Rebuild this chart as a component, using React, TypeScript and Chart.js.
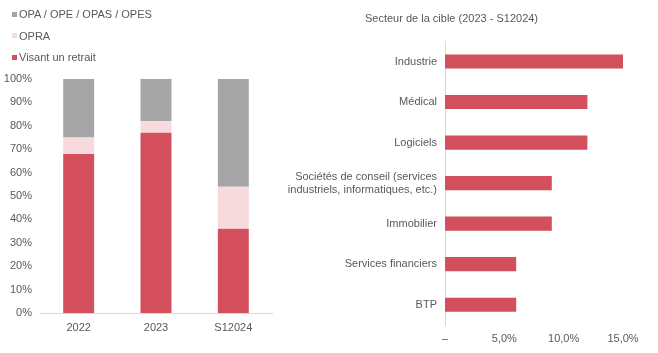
import React, { useEffect, useRef } from "react";
import { Chart, registerables } from "chart.js";

Chart.register(...registerables);

const years = ["2022", "2023", "S12024"];
const visantRetrait = [68, 77, 36];
const opra = [7, 5, 18];
const opaOpe = [25, 18, 46];

const sectors = [
  "Industrie",
  "Médical",
  "Logiciels",
  ["Sociétés de conseil (services", "industriels, informatiques, etc.)"],
  "Immobilier",
  "Services financiers",
  "BTP",
];
const sectorValues = [15, 12, 12, 9, 9, 6, 6];
const sectorTickLabels = ["–", "5,0%", "10,0%", "15,0%"];

const RED = "#D24F5B";
const PINK = "#F6DADD";
const GRAY = "#A5A5A5";
const TEXT = "#595959";
const AXIS = "#D9D9D9";
const FONT = "'Liberation Sans', Arial, sans-serif";

const legendItems = [
  { label: "OPA / OPE / OPAS / OPES", color: GRAY },
  { label: "OPRA", color: PINK },
  { label: "Visant un retrait", color: RED },
];

export default function App() {
  const leftRef = useRef<HTMLCanvasElement>(null);
  const rightRef = useRef<HTMLCanvasElement>(null);

  useEffect(() => {
    Chart.defaults.font.family = FONT;
    Chart.defaults.font.size = 11;
    Chart.defaults.color = TEXT;

    const left = new Chart(leftRef.current!, {
      type: "bar",
      data: {
        labels: years,
        datasets: [
          { label: "Visant un retrait", data: visantRetrait, backgroundColor: RED },
          { label: "OPRA", data: opra, backgroundColor: PINK },
          { label: "OPA / OPE / OPAS / OPES", data: opaOpe, backgroundColor: GRAY },
        ],
      },
      options: {
        responsive: false,
        animation: false,
        devicePixelRatio: 1,
        layout: { padding: { top: 79, right: 8, left: 0, bottom: 0 } },
        datasets: { bar: { categoryPercentage: 1, barPercentage: 0.4 } },
        plugins: { legend: { display: false }, tooltip: { enabled: false } },
        scales: {
          x: {
            stacked: true,
            grid: { display: false, drawTicks: false },
            border: { display: true, color: AXIS, width: 1 },
            ticks: { padding: 8, color: TEXT },
            afterFit: (s: any) => { s.height = 40; },
          },
          y: {
            stacked: true,
            min: 0,
            max: 100,
            grid: { display: false, drawTicks: false },
            border: { display: false },
            ticks: { stepSize: 10, padding: 8, color: TEXT, callback: (v: any) => v + "%" },
            afterFit: (s: any) => { s.width = 40; },
          },
        },
      },
    });

    const right = new Chart(rightRef.current!, {
      type: "bar",
      data: {
        labels: sectors as any,
        datasets: [{ label: "Secteur", data: sectorValues, backgroundColor: RED }],
      },
      options: {
        indexAxis: "y",
        responsive: false,
        animation: false,
        devicePixelRatio: 1,
        layout: { padding: { top: 0, right: 35, left: 0, bottom: 0 } },
        datasets: { bar: { categoryPercentage: 1, barPercentage: 0.35 } },
        plugins: {
          legend: { display: false },
          tooltip: { enabled: false },
          title: {
            display: true,
            text: "Secteur de la cible (2023 - S12024)",
            color: TEXT,
            font: { size: 11, weight: "normal" as any, family: FONT },
            padding: { top: 12, bottom: 16 },
          },
        },
        scales: {
          x: {
            min: 0,
            max: 15,
            grid: { display: false, drawTicks: false },
            border: { display: false },
            ticks: {
              stepSize: 5,
              padding: 7,
              color: TEXT,
              callback: (_v: any, i: number) => sectorTickLabels[i],
            },
            afterFit: (s: any) => { s.height = 28; },
          },
          y: {
            grid: { display: false, drawTicks: false },
            border: { display: true, color: AXIS, width: 1 },
            ticks: { padding: 8, color: TEXT },
            afterFit: (s: any) => { s.width = 165; },
          },
        },
      },
    });

    return () => {
      left.destroy();
      right.destroy();
    };
  }, []);

  return (
    <div style={{ position: "fixed", left: 0, top: 0, width: 658, height: 353, background: "#fff", fontFamily: FONT }}>
      <canvas ref={leftRef} width={280} height={353} style={{ position: "absolute", left: 0, top: 0 }} />
      <canvas ref={rightRef} width={378} height={353} style={{ position: "absolute", left: 280, top: 0 }} />
      <div style={{ position: "absolute", left: 12, top: 7 }}>
        {legendItems.map((it, i) => (
          <div
            key={it.label}
            style={{
              position: "absolute",
              top: i * 21.5,
              left: 0,
              display: "flex",
              alignItems: "center",
              whiteSpace: "nowrap",
              fontSize: 11,
              lineHeight: "14px",
              color: TEXT,
            }}
          >
            <span style={{ display: "inline-block", width: 5, height: 5, background: it.color, marginRight: 2 }} />
            <span>{it.label}</span>
          </div>
        ))}
      </div>
    </div>
  );
}
